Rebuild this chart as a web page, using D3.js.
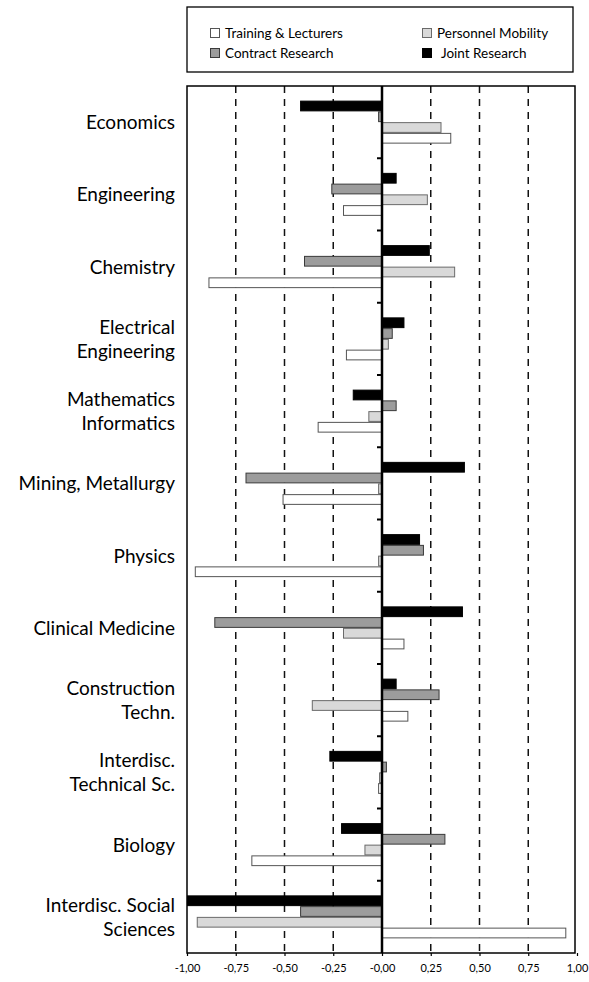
<!DOCTYPE html>
<html><head><meta charset="utf-8">
<script src="https://cdn.jsdelivr.net/npm/d3@7"></script>
<style>
html,body{margin:0;padding:0;background:#fff;}
svg{display:block;}
text{font-family:Lato,"Open Sans",sans-serif;fill:#000;}
</style></head>
<body>
<svg id="chart" width="589" height="982"></svg>
<script>
const categories = ["Economics","Engineering","Chemistry","Electrical Engineering","Mathematics Informatics","Mining, Metallurgy","Physics","Clinical Medicine","Construction Techn.","Interdisc. Technical Sc.","Biology","Interdisc. Social Sciences"];
const categoryLines = [["Economics"],["Engineering"],["Chemistry"],["Electrical","Engineering"],["Mathematics","Informatics"],["Mining, Metallurgy"],["Physics"],["Clinical Medicine"],["Construction","Techn."],["Interdisc.","Technical Sc."],["Biology"],["Interdisc. Social","Sciences"]];
const seriesNames = ["Joint Research","Contract Research","Personnel Mobility","Training & Lecturers"];
const jointResearch     = [-0.42, 0.07, 0.24, 0.11, -0.15, 0.42, 0.19, 0.41, 0.07, -0.27, -0.21, -1.00];
const contractResearch  = [-0.02, -0.26, -0.40, 0.05, 0.07, -0.70, 0.21, -0.86, 0.29, 0.02, 0.32, -0.42];
const personnelMobility = [0.30, 0.23, 0.37, 0.03, -0.07, -0.02, -0.02, -0.20, -0.36, -0.015, -0.09, -0.95];
const trainingLecturers = [0.35, -0.20, -0.89, -0.185, -0.33, -0.51, -0.96, 0.11, 0.13, -0.02, -0.67, 0.94];
const tickValues = [-1, -0.75, -0.5, -0.25, 0, 0.25, 0.5, 0.75, 1];
const tickLabels = ["-1,00","-0,75","-0,50","-0,25","-0,00","0,25","0,50","0,75","1,00"];
const gridValues = [-0.75, -0.5, -0.25, 0.25, 0.5, 0.75];
const legendOrder = ["Training & Lecturers","Personnel Mobility","Contract Research","Joint Research"];

const seriesValues = [jointResearch, contractResearch, personnelMobility, trainingLecturers];
const styles = {
  "Joint Research":      {fill:"#000", stroke:"#000"},
  "Contract Research":   {fill:"#9c9c9c", stroke:"#3a3a3a"},
  "Personnel Mobility":  {fill:"#d9d9d9", stroke:"#6a6a6a"},
  "Training & Lecturers":{fill:"#fff", stroke:"#555"}
};

const svg = d3.select("#chart");
const L = 187, R = 575, T = 86, B = 953;
const x = d3.scaleLinear().domain([-1, 1]).range([187, 577]);
const y = d3.scaleBand().domain(categories).range([T, B]);
const ys = d3.scaleBand().domain(seriesNames).range([0, y.bandwidth()]).paddingInner(0).paddingOuter(1.36);

// gridlines
svg.append("g").selectAll("line").data(gridValues).join("line")
  .attr("x1", d => x(d)).attr("x2", d => x(d))
  .attr("y1", T).attr("y2", B)
  .attr("stroke", "#111").attr("stroke-width", 1.5).attr("stroke-dasharray", "7,6");

// bars
const rows = [];
categories.forEach((c, i) => seriesNames.forEach((s, j) => rows.push({c, s, v: seriesValues[j][i]})));
svg.append("g").selectAll("rect").data(rows).join("rect")
  .attr("x", d => x(Math.min(0, d.v)) + 0.5)
  .attr("width", d => Math.abs(x(d.v) - x(0)))
  .attr("y", d => y(d.c) + ys(d.s) + 0.5)
  .attr("height", ys.bandwidth() - 1)
  .attr("fill", d => styles[d.s].fill)
  .attr("stroke", d => styles[d.s].stroke)
  .attr("stroke-width", 1);

// frame
svg.append("rect").attr("x", L).attr("y", T).attr("width", R - L).attr("height", B - T)
  .attr("fill", "none").attr("stroke", "#000").attr("stroke-width", 1.5);

// zero axis
svg.append("line").attr("x1", x(0)).attr("x2", x(0)).attr("y1", T).attr("y2", B)
  .attr("stroke", "#000").attr("stroke-width", 2.5);
svg.append("g").selectAll("line").data(categories.slice(1)).join("line")
  .attr("x1", x(0) - 5).attr("x2", x(0)).attr("y1", d => y(d)).attr("y2", d => y(d))
  .attr("stroke", "#000").attr("stroke-width", 2);

// bottom axis
const ax = svg.append("g").attr("transform", `translate(0,${B})`)
  .call(d3.axisBottom(x).tickValues(tickValues).tickSize(3).tickPadding(8)
    .tickFormat((d, i) => tickLabels[i]));
ax.select(".domain").remove();
ax.selectAll("line").attr("stroke", "#000").attr("stroke-width", 1.2);
ax.selectAll("text").style("font-family", "Lato, sans-serif").style("font-size", "11px").attr("fill", "#000");

// category labels
const lab = svg.append("g").selectAll("text").data(categories).join("text")
  .attr("x", 175).attr("text-anchor", "end")
  .style("font-size", "19px").style("font-weight", 400);
lab.each(function(c, i) {
  const lines = categoryLines[i];
  const cy = y(c) + y.bandwidth() / 2;
  const lh = 24;
  d3.select(this).selectAll("tspan").data(lines).join("tspan")
    .attr("x", 175)
    .attr("y", (d, k) => cy + (k - (lines.length - 1) / 2) * lh + 7)
    .text(d => d);
});

// legend
svg.append("rect").attr("x", 187).attr("y", 7).attr("width", 386).attr("height", 65)
  .attr("fill", "#fff").attr("stroke", "#000").attr("stroke-width", 1.3);
const legPos = [[210, 28], [422, 28], [210, 48], [422, 48]];
const lg = svg.append("g").selectAll("g").data(legendOrder).join("g")
  .attr("transform", (d, i) => `translate(${legPos[i][0]},${legPos[i][1]})`);
lg.append("rect").attr("x", 0.5).attr("y", 0.5).attr("width", 9).attr("height", 9)
  .attr("fill", d => styles[d].fill).attr("stroke", d => styles[d].stroke).attr("stroke-width", 1);
lg.append("text").attr("x", (d) => d === "Joint Research" ? 19 : 15).attr("y", 9.5)
  .style("font-size", "13.5px").style("font-weight", 400).text(d => d);
</script>
</body></html>
